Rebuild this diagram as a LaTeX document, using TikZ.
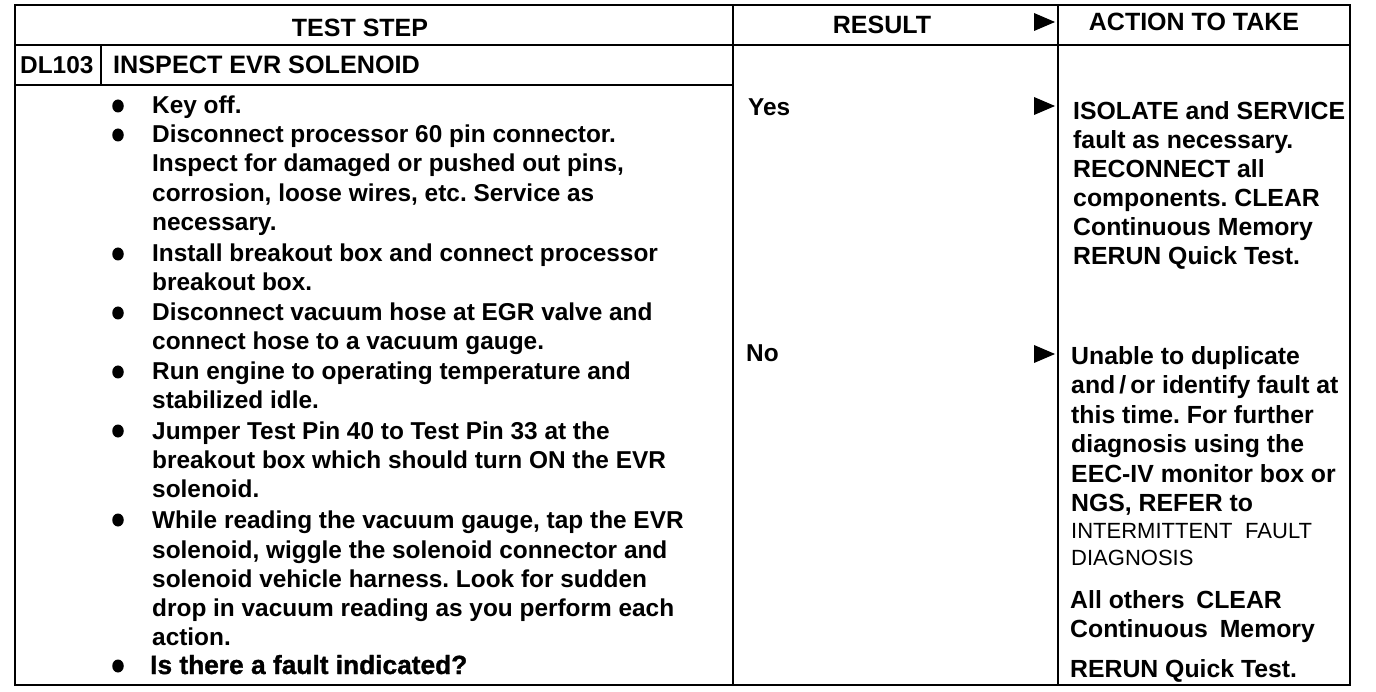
\documentclass[tikz,border=0pt]{standalone}
\usepackage{fontspec}
\usetikzlibrary{shapes.geometric}
\setmainfont{Liberation Sans}
\newfontfamily\boldface{Liberation Sans Bold}
\newfontfamily\heavyface[FakeBold=1.2]{Liberation Sans Bold}
\frenchspacing
\begin{document}
\begin{tikzpicture}[x=1pt,y=-1pt,
  rule/.style={line width=2pt, line cap=rect},
  body/.style={anchor=base west, inner sep=0pt, font=\boldface\fontsize{24.4}{29}\selectfont},
  act/.style={anchor=base west, inner sep=0pt, font=\boldface\fontsize{24.8}{29}\selectfont},
  actreg/.style={anchor=base west, inner sep=0pt, font=\fontsize{22}{27}\selectfont},
  head/.style={anchor=base, inner sep=0pt, font=\boldface\fontsize{25}{29}\selectfont},
  bul/.style={ellipse, fill=black, inner sep=0pt, minimum width=11.5pt, minimum height=13pt},
  tri/.style={fill=black}]
\useasboundingbox (0,0) rectangle (1376,692);
% frame and rules
\draw[rule] (15,5) -- (1350,5);
\draw[rule] (15,45) -- (1350,45);
\draw[rule] (15,85) -- (733,85);
\draw[rule] (15,685) -- (1350,685);
\draw[rule] (15,5) -- (15,685);
\draw[rule] (1350,5) -- (1350,685);
\draw[rule] (733,5) -- (733,685);
\draw[rule] (1058,5) -- (1058,685);
\draw[rule] (101,45) -- (101,85);
% headers
\node[head] (hts) at (360,37) {TEST STEP};
\node[head] (hres) at (882,34) {RESULT};
\node[head] (hact) at (1194,31) {ACTION TO TAKE};
\node[body] (dl) at (20,74) {DL103};
\node[body, font=\boldface\fontsize{25.2}{29}\selectfont] (insp) at (113,74) {INSPECT EVR SOLENOID};
% triangles
\fill[tri] (1034,13) -- (1055,22) -- (1034,31) -- cycle;
\fill[tri] (1034,97) -- (1055,106) -- (1034,115) -- cycle;
\fill[tri] (1034,345) -- (1055,354) -- (1034,363) -- cycle;
% results
\node[body] (yes) at (748,116) {Yes};
\node[body] (no) at (746,362) {No};
% bullets
\foreach \y [count=\i] in {106,135,254,313,372,431,520,666}
  \node[bul] (b\i) at (118,\y) {};
% test step text
\foreach \y/\t [count=\i] in {
  114/{Key off.},
  143/{Disconnect processor 60 pin connector.},
  172/{Inspect for damaged or pushed out pins,},
  202/{corrosion, loose wires, etc. Service as},
  231/{necessary.},
  262/{Install breakout box and connect processor},
  291/{breakout box.},
  321/{Disconnect vacuum hose at EGR valve and},
  350/{connect hose to a vacuum gauge.},
  380/{Run engine to operating temperature and},
  409/{stabilized idle.},
  439/{Jumper Test Pin 40 to Test Pin 33 at the},
  468/{breakout box which should turn ON the EVR},
  497/{solenoid.},
  528/{While reading the vacuum gauge, tap the EVR},
  558/{solenoid, wiggle the solenoid connector and},
  587/{solenoid vehicle harness. Look for sudden},
  616/{drop in vacuum reading as you perform each},
  645/{action.}}
  \node[body] (t\i) at (152,\y) {\t};
\node[body, font=\heavyface\fontsize{26.3}{29}\selectfont] (tq) at (150,674) {Is there a fault indicated?};
% action text
\foreach \y/\t [count=\i] in {
  120/{ISOLATE and SERVICE},
  149/{fault as necessary.},
  178/{RECONNECT all},
  207/{components. CLEAR},
  236/{Continuous Memory},
  265/{RERUN Quick Test.}}
  \node[act] (a\i) at (1073,\y) {\t};
\foreach \y/\t [count=\i] in {
  365/{Unable to duplicate},
  394/{and\,/\,or identify fault at},
  423/{this time. For further},
  452/{diagnosis using the},
  482/{EEC-IV monitor box or},
  511/{NGS, REFER to}}
  \node[act] (n\i) at (1071,\y) {\t};
\node[actreg] (r1) at (1071,538) {INTERMITTENT\hspace{0.3em} FAULT};
\node[actreg] (r2) at (1071,565) {DIAGNOSIS};
\node[act] (o1) at (1070,608) {All others\hspace{0.2em} CLEAR};
\node[act] (o2) at (1070,637) {Continuous\hspace{0.2em} Memory};
\node[act] (o3) at (1070,677) {RERUN Quick Test.};
\end{tikzpicture}
\end{document}
